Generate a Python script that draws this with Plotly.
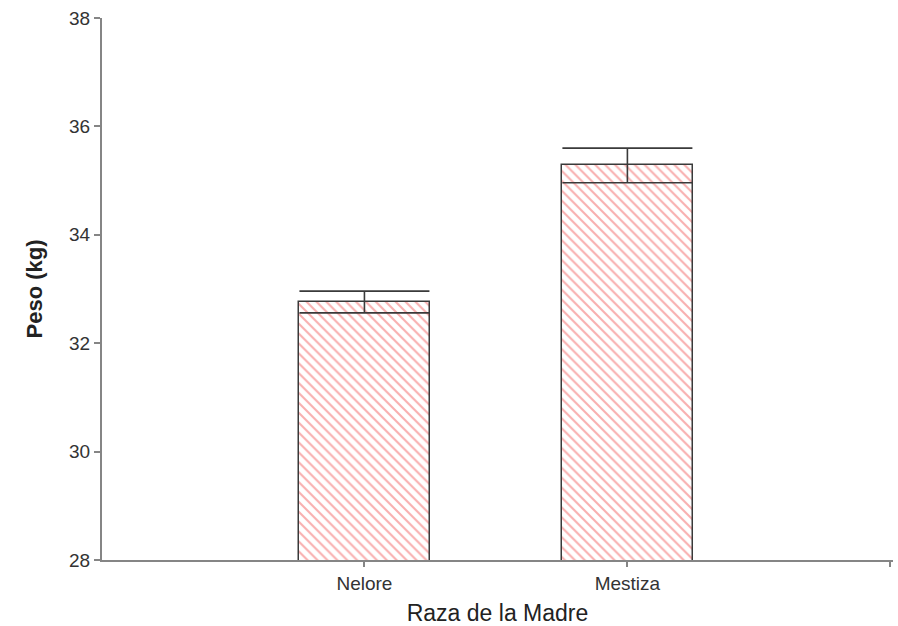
import plotly.graph_objects as go

categories = ["Nelore", "Mestiza"]
peso = [32.76, 35.28]
error = [0.2, 0.32]
y_ticks = [28, 30, 32, 34, 36, 38]

fig = go.Figure()
fig.add_trace(go.Bar(
    x=[0, 1],
    y=peso,
    base=0,
    width=0.5,
    marker=dict(
        color="white",
        line=dict(color="#3a3a3a", width=1.5),
        pattern=dict(shape="\\", fgcolor="#f25f5f", bgcolor="white", size=7, solidity=0.3),
    ),
    error_y=dict(type="data", array=error, visible=True, color="#3a3a3a", thickness=1.6, width=65),
    showlegend=False,
))

fig.update_layout(
    width=898, height=626,
    margin=dict(l=102, r=5, t=18, b=66),
    paper_bgcolor="white", plot_bgcolor="white",
    font=dict(family="Liberation Sans, Arial, sans-serif", color="#222222"),
    bargap=0,
)
fig.update_xaxes(
    range=[-0.998, 2.01],
    tickvals=[0, 1, 2], ticktext=categories + [""],
    showline=True, linecolor="#858585", linewidth=2,
    ticks="outside", ticklen=5, tickcolor="#858585", tickwidth=2,
    showgrid=False, zeroline=False,
    tickfont=dict(size=19, color="#333333"),
    title=dict(text="Raza de la Madre", font=dict(size=23, color="#222222"), standoff=12),
)
fig.update_yaxes(
    range=[28, 38],
    tickvals=y_ticks,
    showline=True, linecolor="#858585", linewidth=2,
    ticks="outside", ticklen=6, tickcolor="#858585", tickwidth=2,
    showgrid=False, zeroline=False,
    tickfont=dict(size=19, color="#333333"),
    title=dict(text="<b>Peso (kg)</b>", font=dict(size=22, color="#222222"), standoff=20),
)

fig.write_html("out.html", config={"displayModeBar": False},
               post_script="document.body.style.margin='0';")
